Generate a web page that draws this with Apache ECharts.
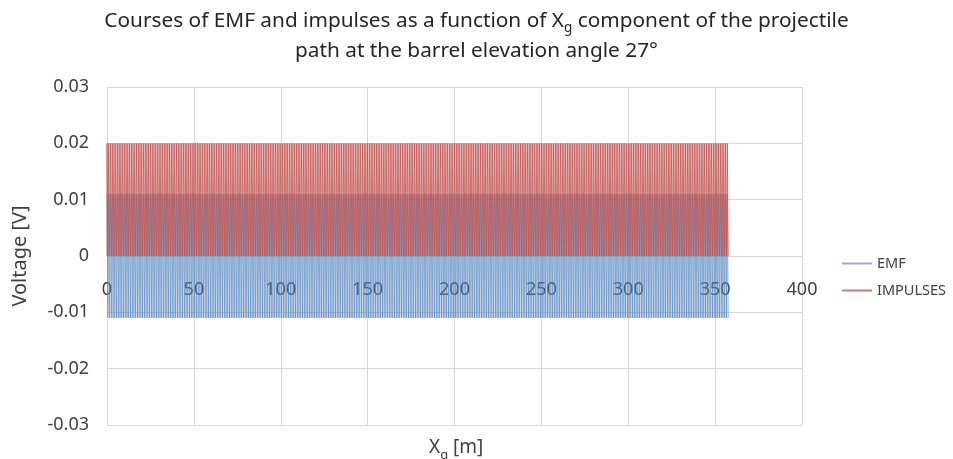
<!DOCTYPE html>
<html>
<head>
<meta charset="utf-8">
<script src="https://cdn.jsdelivr.net/npm/echarts@6/dist/echarts.min.js"></script>
<style>
  html, body { margin: 0; padding: 0; background: #fff; }
  #chart { width: 953px; height: 459px; }
</style>
</head>
<body>
<div id="chart"></div>
<script>
// Rising edges of the detector pulses along the path [m]
const pulseStarts = [
  0, 1, 2, 3, 4, 5, 6, 7, 8, 9, 10, 11, 12, 13, 14, 15, 16, 17, 18, 19,
  20, 21, 22, 23, 24, 25, 26, 27, 28, 29, 30, 31, 32, 33, 34, 35, 36, 37, 38, 39,
  40, 41, 42, 43, 44, 45, 46, 47, 48, 49, 50, 51, 52, 53, 54, 55, 56, 57, 58, 59,
  60, 61, 62, 63, 64, 65, 66, 67, 68, 69, 70, 71, 72, 73, 74, 75, 76, 77, 78, 79,
  80, 81, 82, 83, 84, 85, 86, 87, 88, 89, 90, 91, 92, 93, 94, 95, 96, 97, 98, 99,
  100, 101, 102, 103, 104, 105, 106, 107, 108, 109, 110, 111, 112, 113, 114, 115, 116, 117, 118, 119,
  120, 121, 122, 123, 124, 125, 126, 127, 128, 129, 130, 131, 132, 133, 134, 135, 136, 137, 138, 139,
  140, 141, 142, 143, 144, 145, 146, 147, 148, 149, 150, 151, 152, 153, 154, 155, 156, 157, 158, 159,
  160, 161, 162, 163, 164, 165, 166, 167, 168, 169, 170, 171, 172, 173, 174, 175, 176, 177, 178, 179,
  180, 181, 182, 183, 184, 185, 186, 187, 188, 189, 190, 191, 192, 193, 194, 195, 196, 197, 198, 199,
  200, 201, 202, 203, 204, 205, 206, 207, 208, 209, 210, 211, 212, 213, 214, 215, 216, 217, 218, 219,
  220, 221, 222, 223, 224, 225, 226, 227, 228, 229, 230, 231, 232, 233, 234, 235, 236, 237, 238, 239,
  240, 241, 242, 243, 244, 245, 246, 247, 248, 249, 250, 251, 252, 253, 254, 255, 256, 257, 258, 259,
  260, 261, 262, 263, 264, 265, 266, 267, 268, 269, 270, 271, 272, 273, 274, 275, 276, 277, 278, 279,
  280, 281, 282, 283, 284, 285, 286, 287, 288, 289, 290, 291, 292, 293, 294, 295, 296, 297, 298, 299,
  300, 301, 302, 303, 304, 305, 306, 307, 308, 309, 310, 311, 312, 313, 314, 315, 316, 317, 318, 319,
  320, 321, 322, 323, 324, 325, 326, 327, 328, 329, 330, 331, 332, 333, 334, 335, 336, 337, 338, 339,
  340, 341, 342, 343, 344, 345, 346, 347, 348, 349, 350, 351, 352, 353, 354, 355, 356, 357
];
const pulseWidth = 0.5;      // m
const pulseLevels = [0, 0.02];          // impulse low / high [V]
const emfLevels = [0.011, -0.011];      // EMF peak / trough [V]
const seriesNames = ['EMF', 'IMPULSES'];
const xTicks = [0, 50, 100, 150, 200, 250, 300, 350, 400];
const yTicks = [-0.03, -0.02, -0.01, 0, 0.01, 0.02, 0.03];

// Polylines built from the pulse edges
const emfData = [];
const impulseData = [];
pulseStarts.forEach(s => {
  emfData.push([s, emfLevels[0]], [s + pulseWidth, emfLevels[1]]);
  impulseData.push(
    [s, pulseLevels[0]], [s, pulseLevels[1]],
    [s + pulseWidth, pulseLevels[1]], [s + pulseWidth, pulseLevels[0]]
  );
});

const FONT = 'Noto Sans';
const GRID = { left: 107, right: 151, top: 87, bottom: 34 };
const plotHeight = 459 - GRID.top - GRID.bottom;
const yMin = yTicks[0], yMax = yTicks[yTicks.length - 1];
// the category axis crosses the value axis at 0 V
const xAxisOffset = -plotHeight * (0 - yMin) / (yMax - yMin);

const chart = echarts.init(document.getElementById('chart'), null, { renderer: 'canvas' });
chart.setOption({
  animation: false,
  backgroundColor: '#fff',
  textStyle: { fontFamily: FONT },
  title: [
    {
      text: '{a|Courses of EMF and impulses as a function of X}{s|g}{a| component of the projectile}\n{a|path at the barrel elevation angle 27°}',
      left: 'center', top: 1,
      textStyle: {
        rich: {
          a: { fontFamily: FONT, fontSize: 20.8, fontWeight: 'normal', color: '#262626', lineHeight: 30, align: 'center' },
          s: { fontFamily: FONT, fontSize: 13.5, fontWeight: 'normal', color: '#262626', lineHeight: 30, padding: [15, 0, 0, 0] }
        }
      }
    },
    {
      text: '{a|X}{s|g}{a| [m]}',
      left: 424, top: 430,
      textStyle: {
        rich: {
          a: { fontFamily: FONT, fontSize: 19, fontWeight: 'normal', color: '#404040', lineHeight: 26 },
          s: { fontFamily: FONT, fontSize: 13, fontWeight: 'normal', color: '#404040', lineHeight: 26, padding: [14, 0, 0, 0] }
        }
      }
    }
  ],
  legend: {
    orient: 'vertical',
    left: 836, top: 251,
    itemWidth: 30, itemHeight: 10, itemGap: 12,
    itemStyle: { opacity: 0 },
    textStyle: { fontFamily: FONT, fontSize: 14.5, color: '#404040' },
    data: seriesNames
  },
  grid: GRID,
  xAxis: {
    type: 'value', min: xTicks[0], max: xTicks[xTicks.length - 1], interval: 50,
    offset: xAxisOffset,
    axisLine: { onZero: false, lineStyle: { color: '#d9d9d9' } },
    axisTick: { show: false },
    axisLabel: { fontFamily: FONT, fontSize: 18, color: '#404040', margin: 25 },
    splitLine: { show: true, lineStyle: { color: '#d9d9d9', width: 1 } }
  },
  yAxis: {
    type: 'value', min: yMin, max: yMax, interval: 0.01,
    name: 'Voltage [V]', nameLocation: 'middle', nameGap: 77, nameRotate: 90,
    nameTextStyle: { fontFamily: FONT, fontSize: 20, color: '#404040' },
    axisLine: { show: true, onZero: false, lineStyle: { color: '#d9d9d9' } },
    axisTick: { show: false },
    axisLabel: {
      fontFamily: FONT, fontSize: 18, color: '#404040', margin: 18,
      formatter: v => String(+v.toFixed(2))
    },
    splitLine: { show: true, lineStyle: { color: '#d9d9d9', width: 1 } }
  },
  series: [
    {
      name: seriesNames[0], type: 'line', data: emfData,
      symbol: 'none', sampling: null, silent: true,
      lineStyle: { color: '#4F81BD', width: 1, opacity: 0.62 },
      itemStyle: { color: '#4F81BD' }
    },
    {
      name: seriesNames[1], type: 'line', data: impulseData,
      symbol: 'none', sampling: null, silent: true,
      lineStyle: { color: '#C0504D', width: 1, opacity: 0.76 },
      itemStyle: { color: '#C0504D' }
    }
  ]
});
</script>
</body>
</html>
